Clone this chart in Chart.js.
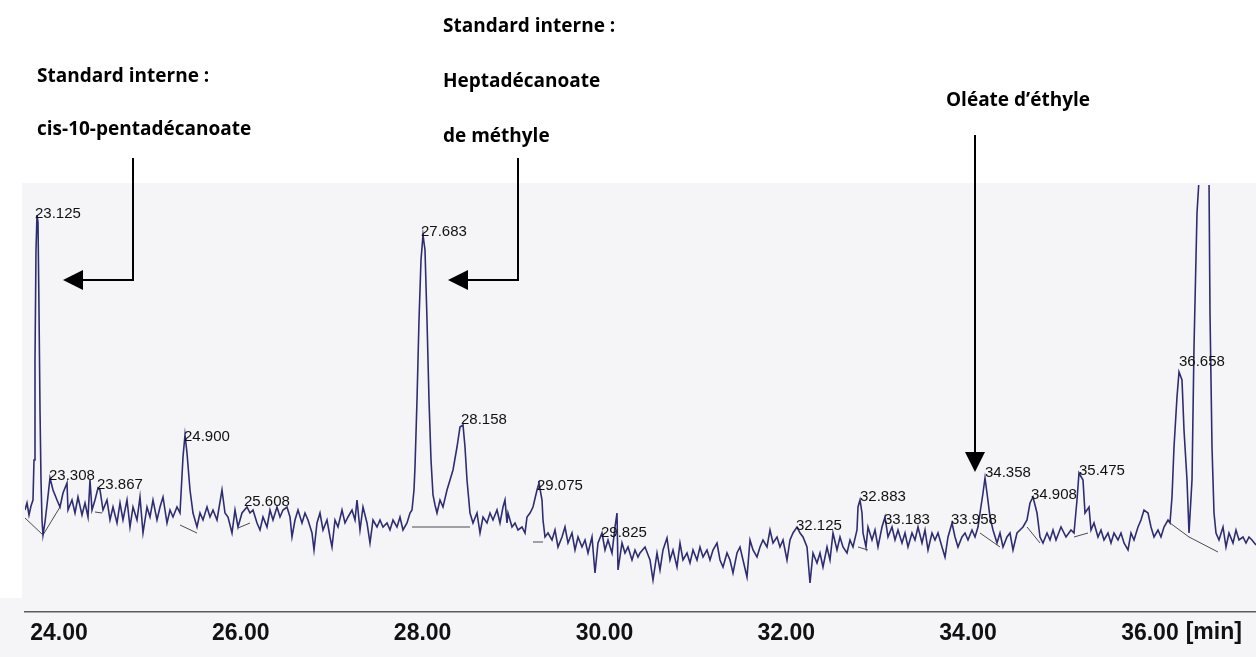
<!DOCTYPE html>
<html>
<head>
<meta charset="utf-8">
<script src="https://cdn.jsdelivr.net/npm/chart.js@4.4.1/dist/chart.umd.min.js"></script>
<style>
  html, body { margin: 0; padding: 0; background: #fff; }
  canvas { display: block; }
</style>
</head>
<body>
<canvas id="chromato" width="1256" height="657"></canvas>
<script>
// retention time (min) and detector signal
var traceTime = [
  23.626,23.648,23.670,23.692,23.714,23.725,23.736,23.747,23.758,23.769,23.780,23.791,23.802,23.813,23.824,23.846,23.868,23.901,23.934,23.978,
  24.011,24.044,24.088,24.099,24.143,24.176,24.209,24.253,24.286,24.319,24.341,24.363,24.396,24.429,24.451,24.484,24.528,24.561,24.594,24.638,
  24.671,24.704,24.748,24.781,24.814,24.858,24.891,24.924,24.968,25.001,25.034,25.078,25.111,25.144,25.188,25.221,25.254,25.298,25.331,25.364,
  25.386,25.408,25.441,25.474,25.518,25.551,25.584,25.628,25.661,25.694,25.738,25.793,25.826,
  25.859,25.903,25.936,25.969,26.013,26.068,26.101,26.134,26.178,26.211,26.244,26.288,26.321,26.354,26.398,26.431,26.464,26.508,26.541,26.563,
  26.596,26.629,26.673,26.706,26.739,26.783,26.805,26.838,26.871,26.904,26.948,26.981,27.003,27.036,27.069,27.113,27.146,27.179,27.223,27.256,
  27.278,27.311,27.344,27.388,27.421,27.454,27.498,27.531,27.564,27.608,27.641,27.674,27.718,27.751,27.784,27.828,27.861,
  27.883,27.905,27.916,27.938,27.960,27.982,28.004,28.026,28.048,28.070,28.092,28.114,28.136,28.158,28.191,28.224,28.268,28.301,28.334,28.378,
  28.411,28.444,28.466,28.488,28.521,28.554,
  28.598,28.631,28.664,28.708,28.741,28.774,28.818,28.851,28.884,28.906,28.928,28.939,28.983,29.016,29.049,29.093,29.126,29.148,29.181,29.214,
  29.258,29.280,29.313,29.324,29.346,29.379,29.423,29.456,29.489,29.533,29.566,29.599,29.643,29.676,29.709,29.753,29.786,29.819,29.863,29.896,
  29.929,29.973,30.006,30.039,30.083,30.116,30.138,30.149,30.193,30.226,30.259,30.303,30.336,30.369,
  30.391,30.446,30.501,30.534,30.578,30.611,30.644,30.688,30.721,30.754,30.798,30.831,30.864,30.908,30.941,30.974,31.018,31.051,31.084,31.128,
  31.161,31.194,31.238,31.271,31.304,31.348,31.381,31.414,31.458,31.491,31.524,31.568,31.601,31.634,31.678,31.711,31.744,31.788,31.821,31.854,
  31.898,31.931,31.964,32.008,32.041,32.074,32.118,32.151,32.184,32.228,32.261,32.294,32.338,32.371,32.404,32.448,32.481,32.514,32.558,32.591,
  32.624,
  32.668,32.701,32.734,32.778,32.789,32.811,32.833,32.844,32.877,32.899,32.943,32.976,33.009,33.053,33.086,33.119,33.163,33.196,33.229,33.273,
  33.306,33.339,33.383,33.416,33.449,33.493,33.526,33.559,33.603,33.636,33.669,33.713,33.746,33.779,33.823,33.856,33.889,33.933,33.966,33.999,
  34.043,34.076,34.109,34.131,34.164,34.186,34.208,34.241,34.274,34.318,34.351,34.384,34.428,34.461,34.494,34.538,34.571,34.604,34.648,34.681,
  34.714,34.758,34.791,34.824,34.868,34.901,
  34.934,34.967,35.022,35.077,35.132,35.165,35.198,35.220,35.264,35.286,35.330,35.352,35.385,35.429,35.462,35.495,35.539,35.572,35.605,35.649,
  35.682,35.715,35.759,35.792,35.825,35.869,35.902,35.935,35.979,36.012,36.045,36.089,36.122,36.155,36.199,36.221,36.243,36.265,36.298,36.320,
  36.353,36.375,36.408,36.430,36.463,36.485,36.518,36.540,36.562,36.595,36.628,36.650,36.661,36.683,36.705,36.727,36.760,36.804,36.837,36.870,
  36.914,36.947,36.980,37.024,37.057,37.090,37.123,37.167
];
var traceSignal = [
  102,109,97,106,112,152,252,362,397,390,302,202,132,92,77,90,107,134,122,112,
  105,119,129,102,112,99,115,97,109,95,132,102,112,124,122,102,112,92,105,89,
  109,92,112,85,105,92,115,79,105,95,112,92,105,115,89,102,95,105,99,155,
  177,159,122,99,85,99,92,105,95,102,92,122,99,
  95,79,102,85,99,105,99,102,89,82,95,85,102,92,105,95,102,105,95,75,
  92,102,89,99,92,79,62,89,99,82,92,75,65,92,85,102,89,95,102,92,
  112,82,105,89,69,92,85,92,85,89,82,92,85,95,82,89,99,
  102,122,145,212,292,352,377,362,292,212,152,117,107,99,112,105,122,132,142,165,
  185,187,165,132,99,89,
  99,79,95,89,99,92,102,89,105,112,89,99,85,89,82,85,79,95,99,105,
  122,129,112,92,75,79,72,82,65,75,85,69,79,62,75,65,72,59,75,39,
  69,79,62,72,59,85,99,42,69,59,65,52,62,55,
  59,65,52,32,59,42,62,74,52,62,45,69,52,59,49,62,52,65,55,62,
  52,62,69,52,45,59,52,39,59,65,52,35,72,62,55,65,72,65,82,69,
  75,65,72,52,72,79,85,79,75,65,29,59,49,59,45,65,52,79,62,75,
  65,
  59,72,65,82,105,112,99,79,65,85,72,82,65,85,95,75,85,72,82,69,
  79,65,79,72,85,69,82,62,79,72,79,65,55,75,89,75,65,75,79,72,
  82,75,85,99,119,134,119,95,82,69,79,65,75,79,62,79,82,85,92,109,
  115,99,75,69,79,72,
  82,72,85,75,82,79,112,139,132,99,105,82,89,75,82,72,79,69,79,72,
  79,69,62,79,72,85,92,102,99,85,75,82,75,85,92,89,115,165,215,240,
  232,182,132,79,132,265,399,432,492,532,492,432,299,165,99,79,72,85,65,79,
  69,82,72,75,69,75,72,67
];

// integrator baselines drawn under the peaks (null = pen up)
var baselineTime = [23.626,23.824,24.011,null,24.396,24.473,null,25.331,25.518,null,25.969,26.101,null,27.883,28.521,null,
  29.214,29.324,null,32.789,32.899,null,34.131,34.351,null,34.648,34.791,null,35.165,35.319,null,36.221,36.430,36.749];
var baselineSignal = [94,77,105,null,100,99,null,87,79,null,84,89,null,85,85,null,
  70,70,null,65,62,null,79,65,null,85,69,null,75,79,null,89,75,60];

// peak annotations printed by the integrator
var peakLabels = ['23.125','23.308','23.867','24.900','25.608','27.683','28.158','29.075','29.825',
  '32.125','32.883','33.183','33.958','34.358','34.908','35.475','36.658'];
var peakTime = [23.747,23.901,24.429,25.386,26.046,27.993,28.433,29.269,29.973,
  32.118,32.822,33.086,33.823,34.197,34.703,35.231,36.331];
var peakSignal = [398,136,127,175,110,380,192,126,79,86,115,92,92,139,117,141,250];

var tickValues = [24, 26, 28, 30, 32, 34, 36];

var annotations = [
  { lines: ['Standard interne :', 'cis-10-pentadécanoate'], x: 37, y: [77, 130] },
  { lines: ['Standard interne :', 'Heptadécanoate', 'de méthyle'], x: 443, y: [27, 82, 137] },
  { lines: ['Oléate d\u2019éthyle'], x: 946, y: [101] }
];

var paperPlugin = {
  id: 'paper',
  beforeDraw: function (chart) {
    var ctx = chart.ctx;
    ctx.save();
    ctx.fillStyle = '#ffffff';
    ctx.fillRect(0, 0, chart.width, chart.height);
    ctx.fillStyle = '#f5f5f7';
    ctx.fillRect(22, 183, chart.width - 22, chart.height - 183);
    ctx.fillRect(0, 598, 22, chart.height - 598);
    ctx.restore();
  }
};

var labelPlugin = {
  id: 'peakLabels',
  afterDatasetsDraw: function (chart) {
    var ctx = chart.ctx, xs = chart.scales.x, ys = chart.scales.y;
    ctx.save();
    ctx.font = '15px "Liberation Sans", Arial, sans-serif';
    ctx.fillStyle = '#111';
    ctx.textAlign = 'left';
    ctx.textBaseline = 'middle';
    for (var i = 0; i < peakLabels.length; i++) {
      ctx.fillText(peakLabels[i], xs.getPixelForValue(peakTime[i]) - 1, ys.getPixelForValue(peakSignal[i]));
    }
    // unit after the last tick
    ctx.font = 'bold 23px "Liberation Sans", Arial, sans-serif';
    ctx.fillStyle = '#111';
    var x36 = xs.getPixelForValue(36);
    var w36 = ctx.measureText('36.00').width;
    ctx.fillText('[min]', x36 + w36 / 2 + 7, 633);
    ctx.restore();
  }
};

var notePlugin = {
  id: 'notes',
  afterDraw: function (chart) {
    var ctx = chart.ctx;
    ctx.save();
    ctx.fillStyle = '#000';
    ctx.font = 'bold 19px "Open Sans", "DejaVu Sans", sans-serif';
    ctx.textAlign = 'left';
    ctx.textBaseline = 'middle';
    annotations.forEach(function (a) {
      a.lines.forEach(function (t, k) { ctx.fillText(t, a.x, a.y[k]); });
    });

    ctx.strokeStyle = '#000';
    ctx.lineWidth = 2;
    function leftArrow(xv, ytop, yh, xtip) {
      ctx.beginPath();
      ctx.moveTo(xv, ytop);
      ctx.lineTo(xv, yh);
      ctx.lineTo(xtip + 18, yh);
      ctx.stroke();
      ctx.beginPath();
      ctx.moveTo(xtip, yh);
      ctx.lineTo(xtip + 20, yh - 10);
      ctx.lineTo(xtip + 20, yh + 10);
      ctx.closePath();
      ctx.fill();
    }
    leftArrow(133, 158, 280, 63);
    leftArrow(518, 158, 280, 448);
    // down arrow to the ethyl oleate peak
    ctx.beginPath();
    ctx.moveTo(975, 135);
    ctx.lineTo(975, 455);
    ctx.stroke();
    ctx.beginPath();
    ctx.moveTo(975, 472);
    ctx.lineTo(965, 452);
    ctx.lineTo(985, 452);
    ctx.closePath();
    ctx.fill();
    ctx.restore();
  }
};

var chart = new Chart(document.getElementById('chromato'), {
  type: 'line',
  data: {
    datasets: [{
      label: 'signal',
      data: traceTime.map(function (t, i) { return { x: t, y: traceSignal[i] }; }),
      borderColor: '#2e2d72',
      borderWidth: 1.6,
      pointRadius: 0,
      tension: 0
    }, {
      label: 'baseline',
      data: baselineTime.map(function (t, i) { return { x: t, y: baselineSignal[i] }; }),
      borderColor: '#4a4a55',
      borderWidth: 1,
      pointRadius: 0,
      spanGaps: false
    }]
  },
  options: {
    responsive: false,
    animation: false,
    devicePixelRatio: 1,
    layout: { padding: { top: 185, left: 25, right: 0, bottom: 0 } },
    plugins: { legend: { display: false }, tooltip: { enabled: false } },
    scales: {
      x: {
        type: 'linear',
        min: 23.626,
        max: 37.167,
        afterBuildTicks: function (axis) {
          axis.ticks = tickValues.map(function (v) { return { value: v }; });
        },
        afterFit: function (axis) { axis.height = 45; },
        grid: { display: false, drawTicks: false },
        border: { display: true, color: '#5a5a62', width: 1.5 },
        ticks: {
          autoSkip: false,
          maxRotation: 0,
          padding: 8,
          color: '#111',
          font: { family: '"Liberation Sans", Arial, sans-serif', size: 23, weight: 'bold' },
          callback: function (v) { return Number(v).toFixed(2); }
        }
      },
      y: { display: false, min: 0, max: 427 }
    }
  },
  plugins: [paperPlugin, labelPlugin, notePlugin]
});
</script>
</body>
</html>
